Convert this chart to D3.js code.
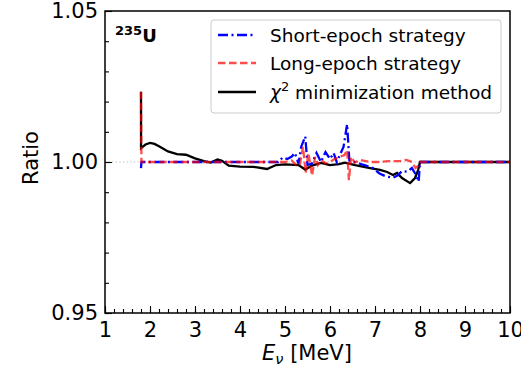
<!DOCTYPE html>
<html>
<head>
<meta charset="utf-8">
<script src="https://cdn.jsdelivr.net/npm/d3@7"></script>
<style>
  body { margin: 0; background: #fff; }
  svg { display: block; font-family: "DejaVu Sans", sans-serif; }
</style>
</head>
<body>
<div id="chart"></div>
<script>
// values
const xTicks = [1, 2, 3, 4, 5, 6, 7, 8, 9, 10];
const yTicks = [0.95, 1.00, 1.05];

const shortE = [1.8, 1.81, 4.85, 4.95, 5.05, 5.15, 5.22, 5.3, 5.36, 5.45, 5.5, 5.6, 5.7, 5.8, 5.9, 6.0, 6.08, 6.15, 6.3, 6.38, 6.43, 6.55, 6.65, 6.8, 6.95, 7.1, 7.25, 7.4, 7.5, 7.6, 7.72, 7.82, 7.9, 7.97, 8.0, 10];
const shortR = [0.998, 1.0, 1.0, 1.0015, 1.001, 1.0018, 1.003, 0.9995, 1.005, 1.0085, 0.999, 0.9995, 1.003, 1.0, 1.0033, 1.001, 1.003, 1.0, 1.005, 1.0125, 1.0005, 1.0, 0.9995, 0.9988, 0.998, 0.9962, 0.9952, 0.9948, 0.9955, 0.997, 0.9968, 0.998, 0.996, 0.9935, 1.0, 1.0];

const longE = [1.8, 1.81, 5.0, 5.15, 5.25, 5.33, 5.4, 5.46, 5.52, 5.6, 5.67, 5.73, 5.8, 5.9, 6.0, 6.1, 6.22, 6.32, 6.38, 6.42, 6.47, 6.55, 6.67, 6.9, 7.1, 7.3, 7.55, 7.7, 7.82, 7.9, 7.98, 8.0, 10];
const longR = [1.0233, 1.0, 1.0, 1.0005, 0.999, 0.999, 1.005, 0.9965, 1.003, 0.9955, 1.0017, 0.999, 1.0007, 0.9995, 1.0, 1.001, 1.0017, 1.0023, 1.004, 0.994, 1.0017, 0.9998, 1.0007, 1.0, 1.0, 1.0003, 1.0003, 1.0007, 1.0, 0.998, 0.999, 1.0, 1.0];

const chiE = [1.8, 1.801, 1.9, 2.0, 2.1, 2.2, 2.4, 2.6, 2.8, 3.0, 3.2, 3.35, 3.5, 3.6, 3.75, 4.0, 4.3, 4.6, 4.8, 5.0, 5.3, 5.45, 5.6, 5.8, 6.0, 6.2, 6.33, 6.56, 6.89, 7.11, 7.27, 7.4, 7.49, 7.6, 7.78, 7.89, 7.96, 8.0, 10];
const chiR = [1.0233, 1.0046, 1.0058, 1.0063, 1.006, 1.0052, 1.0035, 1.0026, 1.0024, 1.0012, 1.0003, 0.9998, 1.0008, 1.0004, 0.9988, 0.9985, 0.9984, 0.9977, 0.999, 0.9992, 0.999, 0.9975, 0.9988, 0.9997, 0.999, 0.9993, 0.9998, 0.999, 0.998, 0.9974, 0.9967, 0.9957, 0.9964, 0.9947, 0.993, 0.9947, 0.9974, 1.0, 1.0];

const W = 521, H = 375;
const m = { left: 105, right: 11, top: 11, bottom: 62 };

const svg = d3.select('#chart').append('svg')
  .attr('width', W)
  .attr('height', H);

const x = d3.scaleLinear().domain([1, 10]).range([m.left, W - m.right]);
const y = d3.scaleLinear().domain([0.95, 1.05]).range([H - m.bottom, m.top]);

// reference line at 1
svg.append('line')
  .attr('x1', x(1)).attr('x2', x(10))
  .attr('y1', y(1)).attr('y2', y(1))
  .attr('stroke', '#bbb')
  .attr('stroke-width', 1.2)
  .attr('stroke-dasharray', '1.2,2.4');

const line = d3.line().x(d => x(d[0])).y(d => y(d[1]));

const series = [
  { e: chiE, r: chiR, color: '#000', dash: null, opacity: 1 },
  { e: shortE, r: shortR, color: '#0000ff', dash: '10,3.5,2,3.5', opacity: 1 },
  { e: longE, r: longR, color: '#ff0000', dash: '7.5,3.5', opacity: 0.7 }
];

series.forEach(s => {
  svg.append('path')
    .datum(d3.zip(s.e, s.r))
    .attr('d', line)
    .attr('fill', 'none')
    .attr('stroke', s.color)
    .attr('stroke-opacity', s.opacity)
    .attr('stroke-width', 2.3)
    .attr('stroke-dasharray', s.dash);
});

// axes: ticks inward, left and bottom only
const xAxis = svg.append('g')
  .attr('transform', `translate(0,${H - m.bottom})`)
  .call(d3.axisBottom(x).tickValues(xTicks).tickFormat(d3.format('d')).tickSizeInner(-7).tickSizeOuter(0).tickPadding(9));
const xMinor = svg.append('g')
  .attr('transform', `translate(0,${H - m.bottom})`)
  .call(d3.axisBottom(x).tickValues(d3.range(1, 10.001, 0.2)).tickFormat('').tickSizeInner(-4).tickSizeOuter(0));

const yAxis = svg.append('g')
  .attr('transform', `translate(${m.left},0)`)
  .call(d3.axisLeft(y).tickValues(yTicks).tickFormat(d3.format('.2f')).tickSizeInner(-7).tickSizeOuter(0).tickPadding(7));
const yMinor = svg.append('g')
  .attr('transform', `translate(${m.left},0)`)
  .call(d3.axisLeft(y).tickValues(d3.range(0.95, 1.0501, 0.01)).tickFormat('').tickSizeInner(-4).tickSizeOuter(0));

[xAxis, xMinor, yAxis, yMinor].forEach(g => {
  g.select('.domain').remove();
  g.selectAll('line').attr('stroke', '#000').attr('stroke-width', 1.1);
  g.selectAll('text').attr('fill', '#000').style('font-size', '21px').style('font-family', '"DejaVu Sans", sans-serif');
});

// frame
svg.append('rect')
  .attr('x', m.left).attr('y', m.top)
  .attr('width', W - m.right - m.left)
  .attr('height', H - m.bottom - m.top)
  .attr('fill', 'none')
  .attr('stroke', '#000')
  .attr('stroke-width', 1.5);

// axis labels
const xl = svg.append('text')
  .attr('x', 307).attr('y', 360)
  .attr('text-anchor', 'middle')
  .style('font-size', '21px');
xl.append('tspan').style('font-style', 'italic').text('E');
xl.append('tspan').style('font-style', 'italic').style('font-size', '14.5px').attr('dy', 4).text('ν');
xl.append('tspan').attr('dy', -4).text(' [MeV]');

svg.append('text')
  .attr('transform', 'translate(38,158) rotate(-90)')
  .attr('text-anchor', 'middle')
  .style('font-size', '21px')
  .text('Ratio');

// isotope tag
const tag = svg.append('text')
  .attr('x', 115).attr('y', 42)
  .style('font-weight', 'bold');
tag.append('tspan').style('font-size', '13px').attr('dy', -7).text('235');
tag.append('tspan').style('font-size', '18px').attr('dy', 7).text('U');

// legend
const legendNames = ['Short-epoch strategy', 'Long-epoch strategy', 'minimization method'];
const legendSeries = [series[1], series[2], series[0]];
const lg = svg.append('g');
lg.append('rect')
  .attr('x', 211).attr('y', 20)
  .attr('width', 290).attr('height', 93)
  .attr('rx', 3)
  .attr('fill', '#fff').attr('fill-opacity', 0.8)
  .attr('stroke', '#ccc').attr('stroke-width', 1);

const rowY = [35, 63, 92];
legendNames.forEach((name, i) => {
  const s = legendSeries[i];
  lg.append('line')
    .attr('x1', 218).attr('x2', 256)
    .attr('y1', rowY[i]).attr('y2', rowY[i])
    .attr('stroke', s.color)
    .attr('stroke-opacity', s.opacity)
    .attr('stroke-width', 2.3)
    .attr('stroke-dasharray', s.dash);
  const t = lg.append('text')
    .attr('x', 270).attr('y', rowY[i] + 6.5)
    .style('font-size', '18.5px');
  if (i === 2) {
    t.append('tspan').style('font-style', 'italic').text('χ');
    t.append('tspan').style('font-size', '13px').attr('dy', -8).text('2');
    t.append('tspan').attr('dy', 8).text(' ' + name);
  } else {
    t.text(name);
  }
});
</script>
</body>
</html>
